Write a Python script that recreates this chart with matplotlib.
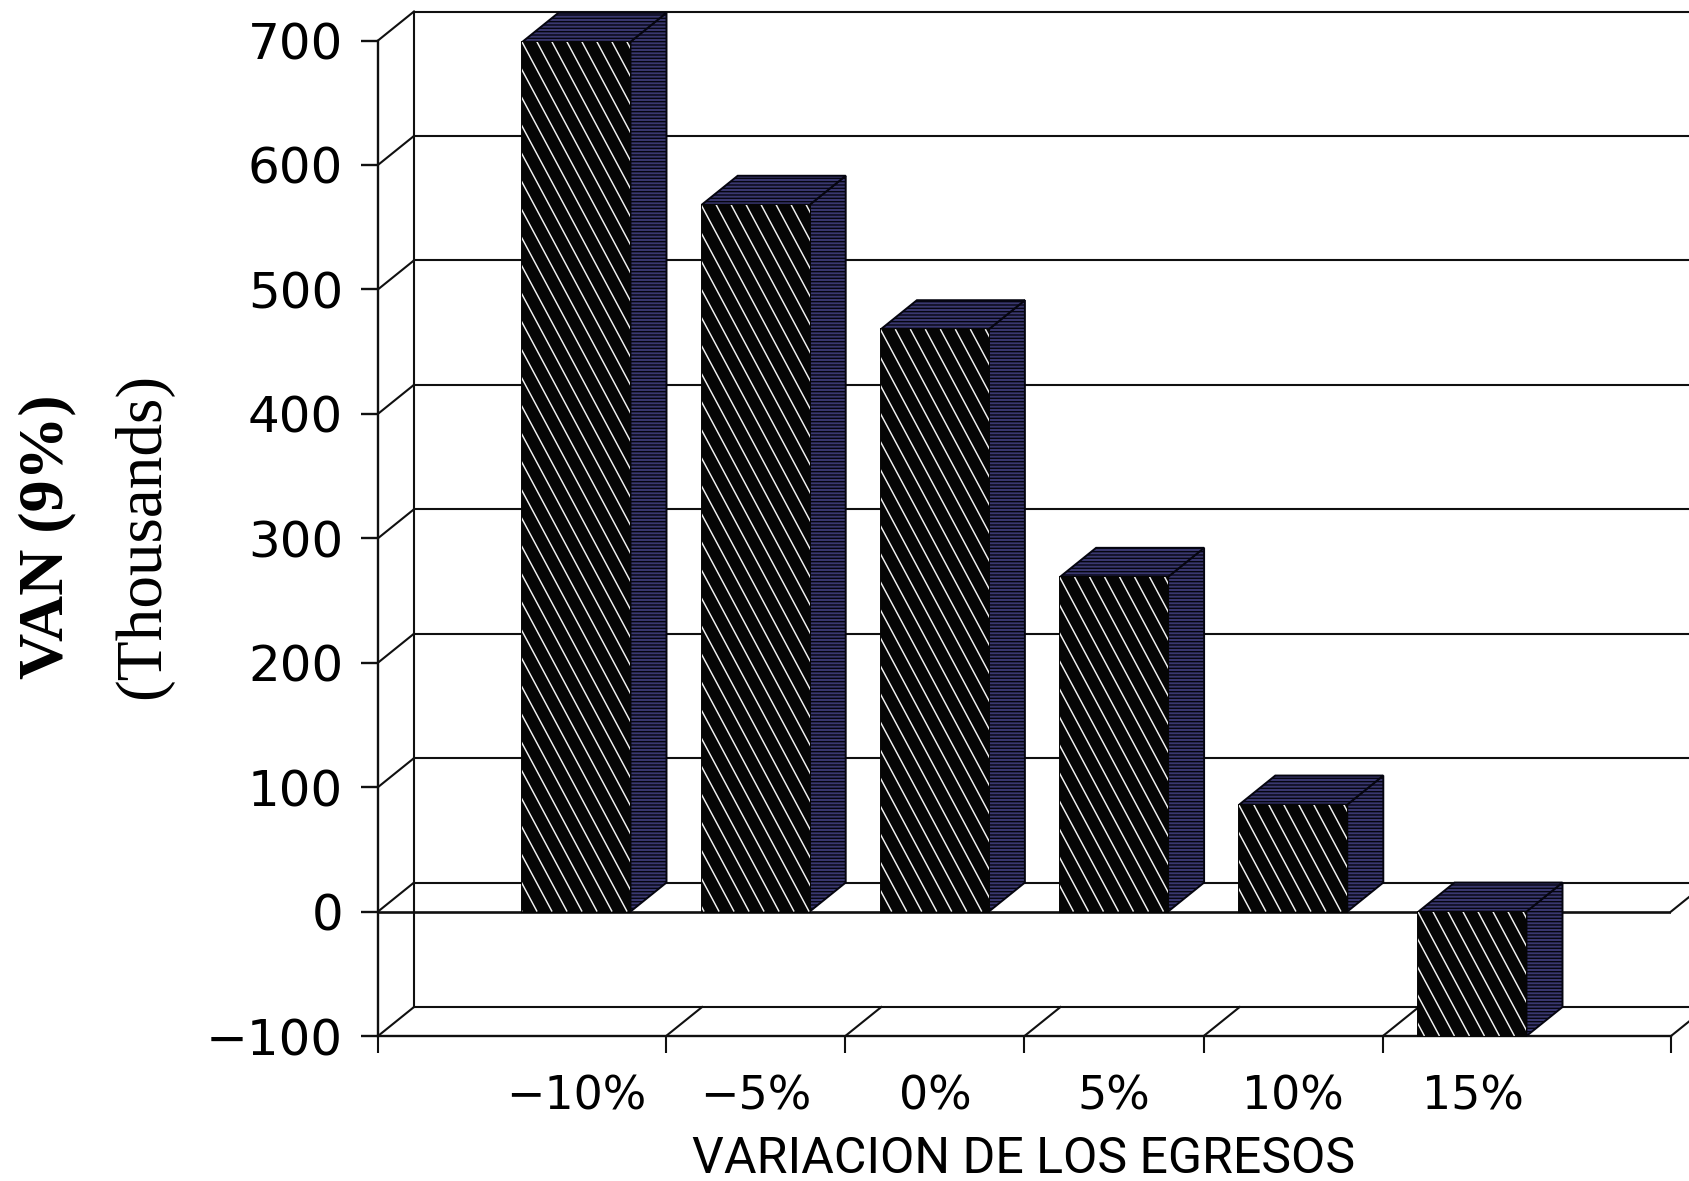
import matplotlib
matplotlib.use('Agg')
import matplotlib.pyplot as plt
import numpy as np
from matplotlib.collections import LineCollection
from matplotlib.patches import Polygon

categories = ['\u221210%', '\u22125%', '0%', '5%', '10%', '15%']
van_values = [699, 568, 468, 269, 86, -100]
y_ticks = [-100, 0, 100, 200, 300, 400, 500, 600, 700]

W, H = 1690, 1181
LINE = '#101010'
SIDE = '#3a3870'

# axes box in pixels, front plane of the 3D look
left_px, right_px = 378, 1671
top_px, bottom_px = 40.5, 1036
fig = plt.figure(figsize=(W / 100, H / 100), dpi=100, facecolor='white')
ax = fig.add_axes([left_px / W, 1 - bottom_px / H, (right_px - left_px) / W, (bottom_px - top_px) / H])

x_scale = 179.2  # px per category
center0 = 576.5
xlim = ((left_px - center0) / x_scale, (right_px - center0) / x_scale)
ax.set_xlim(*xlim)
ax.set_ylim(-100, 700)
y_scale = (bottom_px - top_px) / 800

dx = 36 / x_scale
dy = 29 / y_scale
bar_w = 108 / x_scale

for s in ('top', 'right'):
    ax.spines[s].set_visible(False)
for s in ('left', 'bottom'):
    ax.spines[s].set_linewidth(1.7)
    ax.spines[s].set_color(LINE)

# back wall and side wall
x_end = xlim[1] + 0.2
for v in y_ticks:
    ax.plot([xlim[0] + dx, x_end], [v + dy, v + dy], color=LINE, lw=1.5, clip_on=False, zorder=1)
    ax.plot([xlim[0], xlim[0] + dx], [v, v + dy], color=LINE, lw=1.5, clip_on=False, zorder=1)
ax.plot([xlim[0] + dx] * 2, [-100 + dy, 700 + dy], color=LINE, lw=1.5, clip_on=False, zorder=1)

# floor at zero
ax.plot(xlim, [0, 0], color=LINE, lw=1.9, zorder=1.5)
ax.plot([xlim[1], xlim[1] + dx], [0, dy], color=LINE, lw=1.5, clip_on=False, zorder=1.5)

# ticks between categories and the lines they send across the floor
edges = [xlim[0]] + [i + 0.5 for i in range(5)] + [xlim[1]]
ax.set_xticks(edges, minor=True)
ax.tick_params(axis='x', which='minor', length=12, width=1.5, color=LINE)
for e in edges[1:]:
    ax.plot([e, e + dx], [-100, -100 + dy], color=LINE, lw=1.5, clip_on=False, zorder=1.5)

ax.set_xticks(range(len(categories)), categories, fontsize=33, family='DejaVu Sans')
ax.tick_params(axis='x', which='major', length=0, pad=28)
ax.set_yticks(y_ticks, [str(v).replace('-', '\u2212') for v in y_ticks], fontsize=36, family='DejaVu Sans')
ax.tick_params(axis='y', length=12, width=1.7, color=LINE, pad=13)

plt.rcParams['hatch.linewidth'] = 1.0
plt.rcParams['hatch.color'] = '#c4c4d8'


def stripes(patch, x0, x1, v0, v1):
    """white slanted lines on a bar front, clipped to the bar"""
    slope = 1.87 * x_scale / y_scale  # value units per category unit, going down to the right
    spacing = 15 / x_scale
    height = v1 - v0
    n = int((height / slope + (x1 - x0)) / spacing) + 2
    segs = []
    for k in range(n):
        start = x1 - 0.02 - k * spacing
        segs.append([(start, v1), (start + height / slope, v0)])
    lc = LineCollection(segs, colors='#f2f2f2', linewidths=1.05, zorder=5)
    ax.add_collection(lc, autolim=False)
    lc.set_clip_path(patch)


for i, v in enumerate(van_values):
    x0, x1 = i - bar_w / 2, i + bar_w / 2
    hi, lo = max(v, 0), min(v, 0)
    front = Polygon([(x0, lo), (x1, lo), (x1, hi), (x0, hi)], fc='#050505', ec='#050505', lw=1.4, zorder=4)
    side = Polygon([(x1, lo), (x1 + dx, lo + dy), (x1 + dx, hi + dy), (x1, hi)], fc=SIDE, ec='#050510', lw=1.4,
                   hatch='-----', zorder=3.5)
    top = Polygon([(x0, hi), (x1, hi), (x1 + dx, hi + dy), (x0 + dx, hi + dy)], fc=SIDE, ec='#050510', lw=1.4,
                  hatch='-----', zorder=3.5)
    for p in (side, top, front):
        p.set_clip_on(False)
        ax.add_patch(p)
    stripes(front, x0, x1, lo, hi)

fig.text(47 / W, 1 - 537 / H, 'VAN (9%)', rotation=90, ha='center', va='center', fontsize=46,
         family='Liberation Serif', fontweight='bold')
fig.text(143 / W, 1 - 536 / H, '(Thousands)', rotation=90, ha='center', va='center', fontsize=47,
         family='Liberation Serif')
fig.text(1024 / W, 1 - 1159 / H, 'VARIACION DE LOS EGRESOS', ha='center', va='center', fontsize=36,
         family='Roboto')

fig.savefig('out.png', dpi=100)
